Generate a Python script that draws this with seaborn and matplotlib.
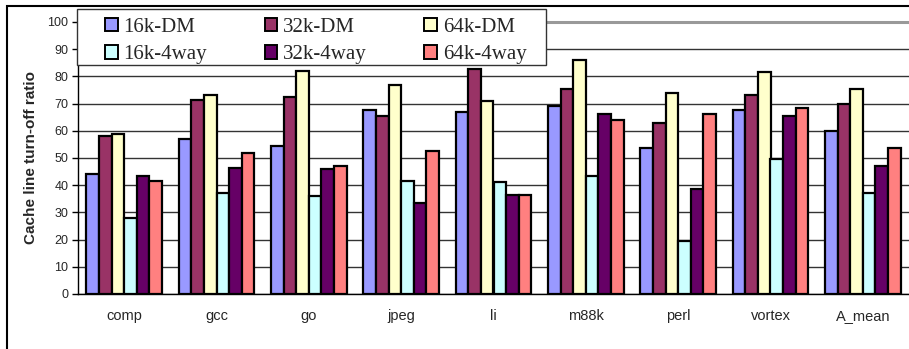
import pandas as pd
import seaborn as sns
import matplotlib.pyplot as plt
from matplotlib.patches import Rectangle, Patch

# benchmarks and series (cache line turn-off ratio, %)
benchmarks = ["comp", "gcc", "go", "jpeg", "li", "m88k", "perl", "vortex", "A_mean"]
series = ["16k-DM", "32k-DM", "64k-DM", "16k-4way", "32k-4way", "64k-4way"]

dm_16k = [44, 57, 54.5, 67.5, 67, 69, 53.5, 67.5, 60]
dm_32k = [58, 71.5, 72.5, 65.5, 82.7, 75.4, 63, 73.2, 70]
dm_64k = [59, 73, 82, 77, 70.8, 86, 74, 81.5, 75.4]
way4_16k = [28, 37, 36, 41.5, 41, 43.5, 19.5, 49.6, 37]
way4_32k = [43.5, 46.5, 46, 33.5, 36.5, 66, 38.5, 65.3, 47]
way4_64k = [41.5, 52, 47, 52.5, 36.5, 63.8, 66, 68.3, 53.5]

colors = ["#9999FF", "#993366", "#FFFFCC", "#CCFFFF", "#660066", "#FF8080"]

values = [dm_16k, dm_32k, dm_64k, way4_16k, way4_32k, way4_64k]
rows = []
for name, vals in zip(series, values):
    for b, v in zip(benchmarks, vals):
        rows.append({"bench": b, "config": name, "ratio": v})
df = pd.DataFrame(rows)

sns.set_style("white")
plt.rcParams["font.family"] = ["Liberation Sans", "DejaVu Sans"]

W, H = 909, 349
fig = plt.figure(figsize=(W / 100, H / 100), dpi=100)
ax = fig.add_axes([78 / W, 1 - 294 / H, 1 - 78 / W, (294 - 22) / H])

sns.barplot(data=df, x="bench", y="ratio", hue="config", order=benchmarks,
            hue_order=series, palette=colors, width=0.82, edgecolor="black",
            linewidth=1.6, saturation=1, ax=ax, legend=False)

ax.set_ylim(0, 100)
ax.set_xlim(-0.5, len(benchmarks) - 0.5)
ax.set_yticks(range(0, 101, 10))
ax.set_axisbelow(True)
ax.yaxis.grid(True, color="#333333", linewidth=1)
ax.xaxis.grid(False)

ax.set_xticks(range(len(benchmarks)))
ax.set_xticklabels(benchmarks, fontsize=10.5)
ax.set_xticks([i - 0.5 for i in range(len(benchmarks) + 1)], minor=True)
ax.tick_params(axis="x", which="major", length=0, pad=11)
ax.tick_params(axis="x", which="minor", length=5, width=1, color="black", direction="out")
ax.tick_params(axis="y", length=4, width=1, color="black", direction="out",
               labelsize=9, pad=3, left=True)

for s in ["left", "bottom"]:
    ax.spines[s].set_color("black")
    ax.spines[s].set_linewidth(1)
ax.spines["top"].set_color("#999999")
ax.spines["top"].set_linewidth(2.2)
ax.spines["right"].set_visible(False)

ax.set_xlabel("")
ax.set_ylabel("Cache line turn-off ratio", fontsize=11, fontweight="bold")
ax.yaxis.set_label_coords(38 / W, 1 - 158 / H, transform=fig.transFigure)

# legend: row-wise order like the original (DM on top, 4way below)
order = [0, 3, 1, 4, 2, 5]
handles = [Patch(facecolor=colors[i], edgecolor="black", linewidth=1.4) for i in order]
labels = [series[i] for i in order]
ax.add_patch(Rectangle((77 / W, 1 - 65 / H), 469 / W, 56 / H,
                       transform=fig.transFigure, facecolor="white",
                       edgecolor="#333333", linewidth=1, zorder=4, clip_on=False))
leg = ax.legend(handles, labels, ncol=3, loc="upper left",
                bbox_to_anchor=(105 / W, 1 - 18 / H), bbox_transform=fig.transFigure,
                prop={"family": "Liberation Serif", "size": 15},
                frameon=False, handlelength=0.6, handleheight=0.6,
                handletextpad=0.29, columnspacing=2.76, borderpad=0,
                labelspacing=0.4, borderaxespad=0)
leg.set_zorder(5)

# outer chart border
fig.patches.append(Rectangle((7 / W, -0.1), 1.5, 1 - 6 / H + 0.1,
                             transform=fig.transFigure, fill=False,
                             edgecolor="black", linewidth=1.5, zorder=-1))

fig.savefig("out.png", dpi=100)
